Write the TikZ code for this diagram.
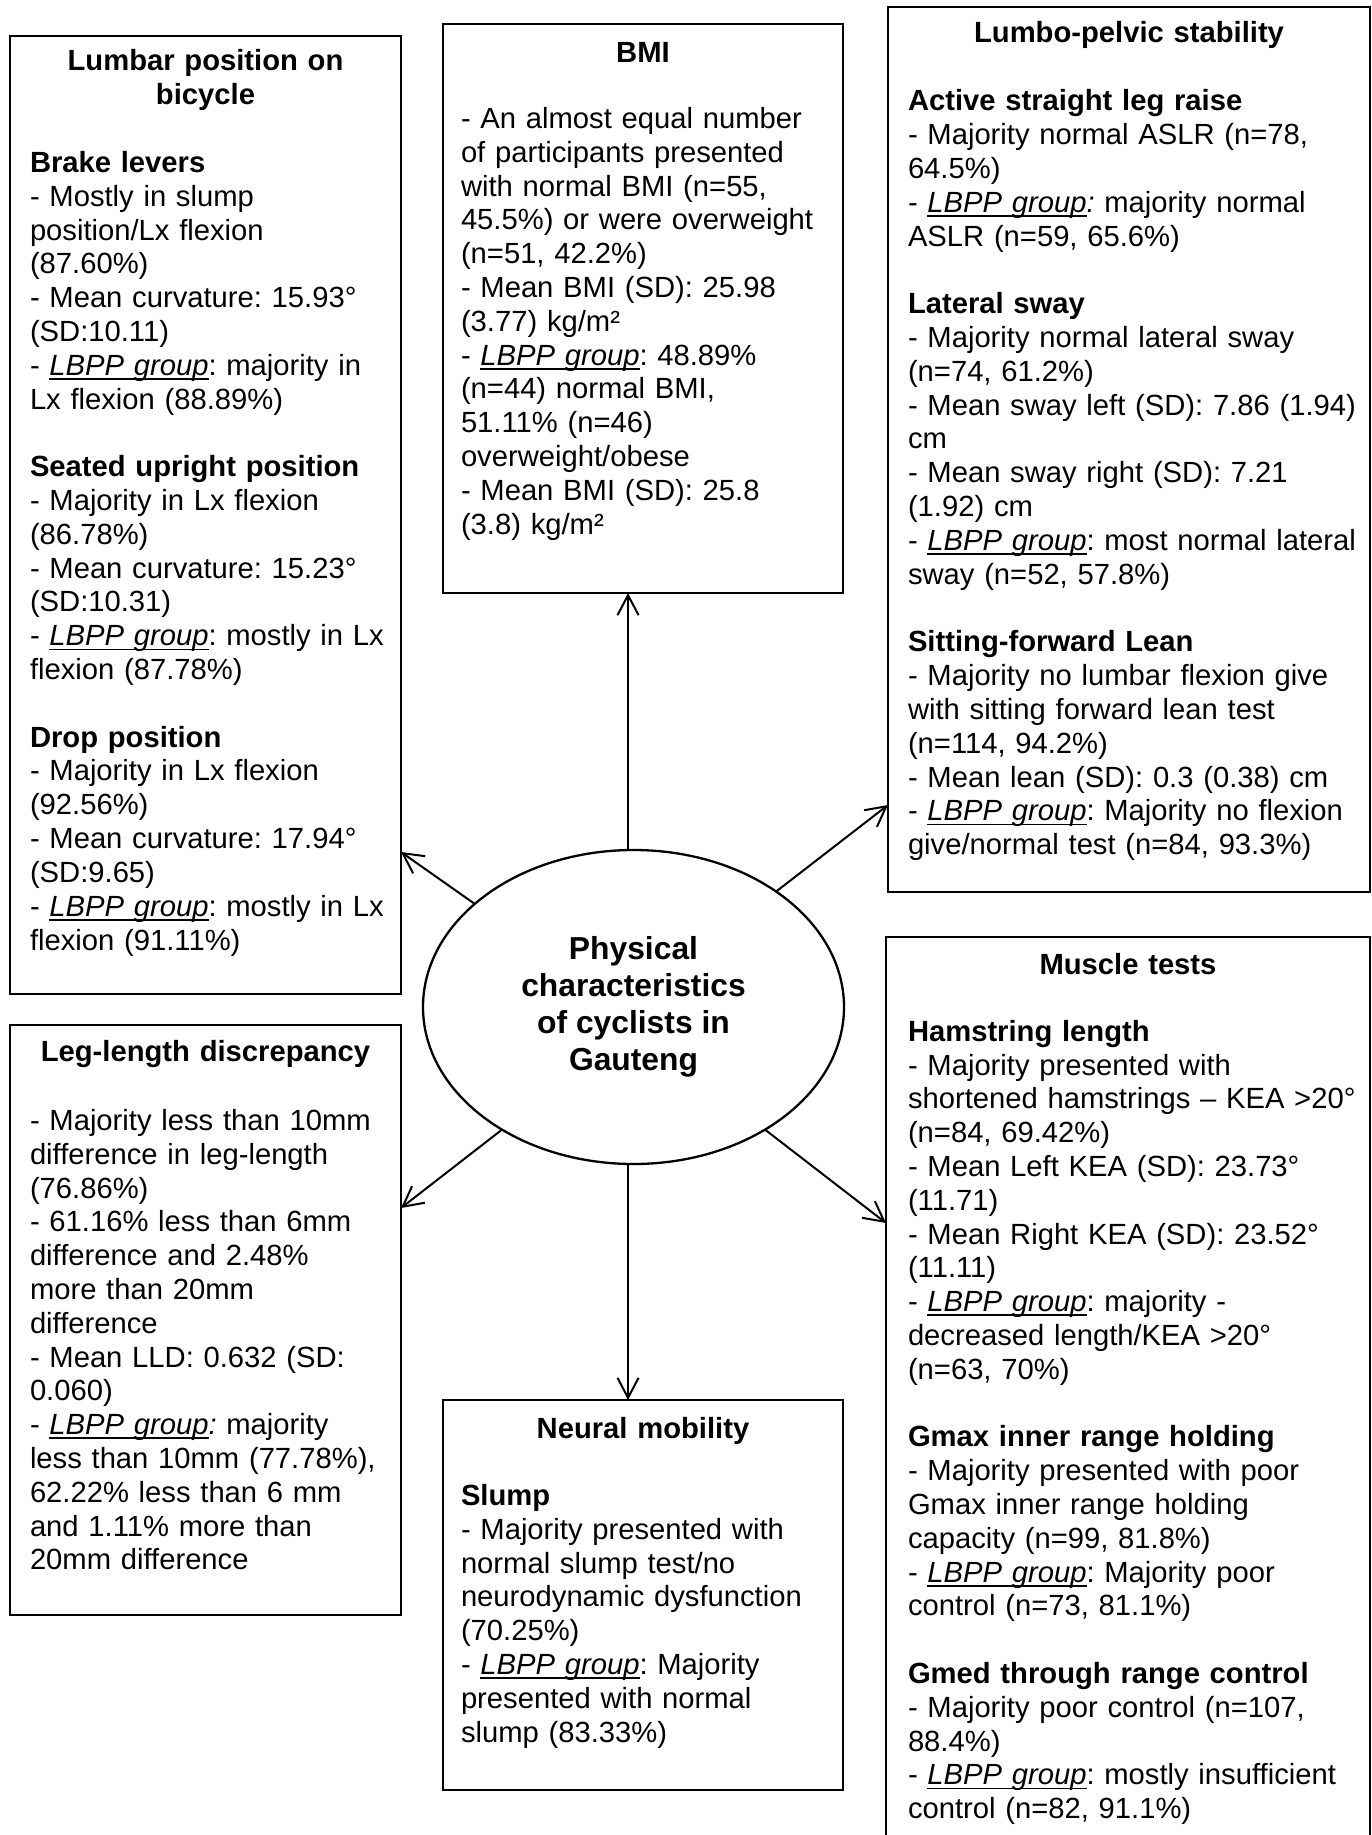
\documentclass[tikz,border=0pt]{standalone}
\usepackage{fontspec}
\setmainfont{Liberation Sans}
\usetikzlibrary{arrows.meta,shapes.geometric}

\frenchspacing
\newcommand{\bodyfont}{\fontsize{29.2pt}{33.8pt}\selectfont}
\newsavebox{\lbppbox}
% italic "LBPP group" with a close, thin underline
\newcommand{\lbpp}{\sbox{\lbppbox}{\textit{LBPP group}}\rlap{\rule[-0.16em]{\wd\lbppbox}{0.065em}}\usebox{\lbppbox}}
\newcommand{\lbppc}{\lbpp\textit{:}}
\newcommand{\emptyrow}{\\[33.8pt]}

\tikzset{
  box/.style={draw, rectangle, line width=1.8pt, inner sep=0pt, outer sep=0pt, anchor=north west},
  body/.style={anchor=base west, inner sep=0pt, outer sep=0pt, align=left, text width=500pt, font=\bodyfont},
  head/.style={anchor=base, inner sep=0pt, outer sep=0pt, align=center, text width=#1, font=\bodyfont\bfseries},
  hub/.style={ellipse, draw, line width=2.3pt, minimum width=421pt, minimum height=314pt,
    inner sep=0pt, outer sep=0pt, align=center, font=\fontsize{31.8pt}{37pt}\selectfont\bfseries},
  arr/.style={line width=2pt, -{Straight Barb[length=20pt,width=21pt]}}
}

\begin{document}
\begin{tikzpicture}[x=1pt,y=-1pt]
\clip (0,0) rectangle (1372,1835);
\fill[white] (0,0) rectangle (1372,1835);

% frames
\node[box, minimum width=391pt, minimum height=958pt] (lumbar) at (10,36) {};
\node[box, minimum width=400pt, minimum height=569pt] (bmi) at (443,24) {};
\node[box, minimum width=482pt, minimum height=885pt] (lumbo) at (888,7) {};
\node[box, minimum width=391pt, minimum height=590pt] (leg) at (10,1025) {};
\node[box, minimum width=400pt, minimum height=390pt] (neural) at (443,1400) {};
\node[box, minimum width=484pt, minimum height=930pt] (muscle) at (886,937) {};

% central ellipse
\node[hub] (ell) at (633.5,1007) {Physical\\characteristics\\of cyclists in\\Gauteng};

% connectors
\draw[arr] (ell.92) -- (ell.92 |- bmi.south);
\draw[arr] (ell.268) -- (ell.268 |- neural.north);
\draw[arr] (ell.147) -- (lumbar.east |- 0,852);
\draw[arr] (ell.39) -- (lumbo.west |- 0,805);
\draw[arr] (ell.223) -- (leg.east |- 0,1208);
\draw[arr] (ell.317) -- (muscle.west |- 0,1223);

% Lumbar position
\node[head=380pt] (lumbarT) at (205.5,71) {Lumbar position on\\bicycle};
\node[body] (lumbarB) at (30,172.6) {\textbf{Brake levers}\\
- Mostly in slump\\
position/Lx flexion\\
(87.60\%)\\
- Mean curvature: 15.93°\\
(SD:10.11)\\
- \lbpp: majority in\\
Lx flexion (88.89\%)\emptyrow
\textbf{Seated upright position}\\
- Majority in Lx flexion\\
(86.78\%)\\
- Mean curvature: 15.23°\\
(SD:10.31)\\
- \lbpp: mostly in Lx\\
flexion (87.78\%)\emptyrow
\textbf{Drop position}\\
- Majority in Lx flexion\\
(92.56\%)\\
- Mean curvature: 17.94°\\
(SD:9.65)\\
- \lbpp: mostly in Lx\\
flexion (91.11\%)};

% BMI
\node[head=380pt] (bmiT) at (643,62.7) {BMI};
\node[body] (bmiB) at (461,128.5) {- An almost equal number\\
of participants presented\\
with normal BMI (n=55,\\
45.5\%) or were overweight\\
(n=51, 42.2\%)\\
- Mean BMI (SD): 25.98\\
(3.77) kg/m²\\
- \lbpp: 48.89\%\\
(n=44) normal BMI,\\
51.11\% (n=46)\\
overweight/obese\\
- Mean BMI (SD): 25.8\\
(3.8) kg/m²};

% Lumbo-pelvic stability
\node[head=460pt] (lumboT) at (1129,42.8) {Lumbo-pelvic stability};
\node[body] (lumboB) at (908,111) {\textbf{Active straight leg raise}\\
- Majority normal ASLR (n=78,\\
64.5\%)\\
- \lbppc{} majority normal\\
ASLR (n=59, 65.6\%)\emptyrow
\textbf{Lateral sway}\\
- Majority normal lateral sway\\
(n=74, 61.2\%)\\
- Mean sway left (SD): 7.86 (1.94)\\
cm\\
- Mean sway right (SD): 7.21\\
(1.92) cm\\
- \lbpp: most normal lateral\\
sway (n=52, 57.8\%)\emptyrow
\textbf{Sitting-forward Lean}\\
- Majority no lumbar flexion give\\
with sitting forward lean test\\
(n=114, 94.2\%)\\
- Mean lean (SD): 0.3 (0.38) cm\\
- \lbpp: Majority no flexion\\
give/normal test (n=84, 93.3\%)};

% Leg-length discrepancy
\node[head=380pt] (legT) at (205.5,1061) {Leg-length discrepancy};
\node[body] (legB) at (30,1130.5) {- Majority less than 10mm\\
difference in leg-length\\
(76.86\%)\\
- 61.16\% less than 6mm\\
difference and 2.48\%\\
more than 20mm\\
difference\\
- Mean LLD: 0.632 (SD:\\
0.060)\\
- \lbppc{} majority\\
less than 10mm (77.78\%),\\
62.22\% less than 6 mm\\
and 1.11\% more than\\
20mm difference};

% Neural mobility
\node[head=380pt] (neuralT) at (643,1438) {Neural mobility};
\node[body] (neuralB) at (461,1505.5) {\textbf{Slump}\\
- Majority presented with\\
normal slump test/no\\
neurodynamic dysfunction\\
(70.25\%)\\
- \lbpp: Majority\\
presented with normal\\
slump (83.33\%)};

% Muscle tests
\node[head=460pt] (muscleT) at (1128,974.6) {Muscle tests};
\node[body] (muscleB) at (908,1041.2) {\textbf{Hamstring length}\\
- Majority presented with\\
shortened hamstrings – KEA >20°\\
(n=84, 69.42\%)\\
- Mean Left KEA (SD): 23.73°\\
(11.71)\\
- Mean Right KEA (SD): 23.52°\\
(11.11)\\
- \lbpp: majority -\\
decreased length/KEA >20°\\
(n=63, 70\%)\emptyrow
\textbf{Gmax inner range holding}\\
- Majority presented with poor\\
Gmax inner range holding\\
capacity (n=99, 81.8\%)\\
- \lbpp: Majority poor\\
control (n=73, 81.1\%)\emptyrow
\textbf{Gmed through range control}\\
- Majority poor control (n=107,\\
88.4\%)\\
- \lbpp: mostly insufficient\\
control (n=82, 91.1\%)};
\end{tikzpicture}
\end{document}
